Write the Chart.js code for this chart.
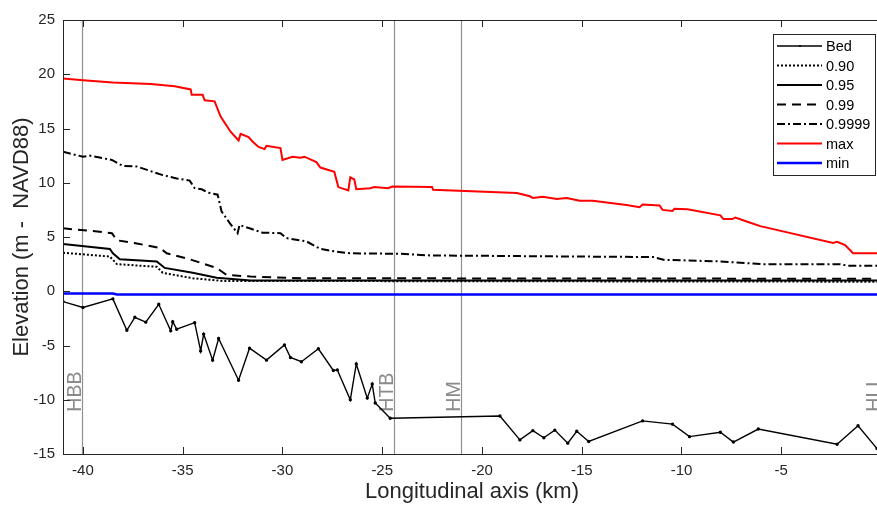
<!DOCTYPE html>
<html>
<head>
<meta charset="utf-8">
<script src="https://cdn.jsdelivr.net/npm/chart.js@4"></script>
<style>
  html, body { margin: 0; padding: 0; background: #fff; overflow: hidden; width: 877px; height: 508px; }
  #wrap { width: 877px; height: 508px; overflow: hidden; position: relative; }
  #chart { position: absolute; left: 0; top: 0; }
</style>
</head>
<body>
<div id="wrap"><canvas id="chart" width="890" height="508"></canvas></div>
<script>
// Tick labels
const xTicks = [-40, -35, -30, -25, -20, -15, -10, -5, 0];
const yTicks = [-15, -10, -5, 0, 5, 10, 15, 20, 25];

// Bed profile
const bedKm   = [-41, -40, -38.5, -37.8, -37.4, -36.85, -36.2, -35.6, -35.5, -35.3, -34.4, -34.1, -33.95, -33.5, -33.2, -32.2, -31.65, -30.8, -29.9, -29.6, -29.05, -28.2, -27.45, -27.25, -26.6, -26.3, -25.75, -25.5, -25.35, -24.6, -19.1, -18.1, -17.45, -16.9, -16.35, -15.7, -15.25, -14.65, -11.95, -10.45, -9.6, -8.05, -7.4, -6.15, -2.2, -1.15, -0.2];
const bedElev = [-0.95, -1.5, -0.7, -3.6, -2.4, -2.85, -1.2, -3.65, -2.8, -3.5, -2.9, -5.5, -3.95, -6.35, -4.35, -8.2, -5.25, -6.35, -4.95, -6.1, -6.5, -5.3, -7.3, -7.25, -10.0, -6.7, -9.85, -8.55, -10.3, -11.7, -11.5, -13.7, -12.85, -13.5, -12.8, -14.0, -12.9, -13.85, -11.95, -12.25, -13.4, -13.0, -13.9, -12.7, -14.1, -12.4, -14.5];

// Quantile 0.90
const q90Km   = [-41, -38.65, -38.3, -36.3, -36.0, -34.5, -33.0, 0];
const q90Elev = [3.55, 3.2, 2.5, 2.25, 1.7, 1.2, 0.95, 0.88];

// Quantile 0.95
const q95Km   = [-41, -38.65, -38.5, -38.15, -36.3, -35.9, -34.5, -33.3, -31.6, 0];
const q95Elev = [4.35, 3.9, 3.5, 2.95, 2.75, 2.15, 1.7, 1.25, 1.0, 1.0];

// Quantile 0.99
const q99Km   = [-41, -39.5, -38.55, -38.3, -37.3, -36.15, -35.8, -34.65, -33.3, -32.8, -31.6, -29.1, 0];
const q99Elev = [5.8, 5.55, 5.35, 4.7, 4.4, 4.0, 3.5, 2.95, 2.15, 1.5, 1.35, 1.2, 1.15];

// Quantile 0.9999
const q9999Km   = [-41, -40, -39.65, -38.55, -38.0, -37.3, -36.0, -35.3, -34.65, -34.4, -34.05, -33.75, -33.25, -33.05, -32.65, -32.25, -32.15, -31.65, -31.0, -30.1, -29.8, -28.8, -28.1, -27.3, -26.6, -24.1, -22.6, -11.4, -10.9, -8.1, -5.9, -2.05, -1.7, 0];
const q9999Elev = [12.85, 12.4, 12.5, 12.1, 11.55, 11.5, 10.7, 10.4, 10.2, 9.5, 9.4, 9.1, 8.9, 7.35, 6.3, 5.35, 6.1, 5.8, 5.4, 5.35, 4.9, 4.6, 3.9, 3.65, 3.5, 3.45, 3.3, 3.15, 2.9, 2.75, 2.5, 2.5, 2.35, 2.35];

// Max elevation
const maxKm   = [-41, -40, -38.5, -36.6, -35.4, -34.6, -34.55, -34.0, -33.9, -33.4, -33.1, -32.6, -32.2, -32.1, -31.7, -31.5, -31.2, -30.9, -30.8, -30.1, -30.0, -29.5, -29.1, -28.9, -28.3, -28.1, -27.4, -27.2, -26.7, -26.6, -26.4, -26.3, -25.6, -25.4, -24.7, -24.5, -22.5, -22.45, -18.25, -17.6, -17.45, -16.95, -16.25, -15.75, -15.1, -14.45, -12.75, -12.1, -11.95, -11.1, -10.95, -10.45, -10.35, -9.7, -8.05, -7.9, -7.45, -7.3, -6.7, -6.05, -2.4, -2.2, -1.8, -1.4, 0];
const maxElev = [19.6, 19.45, 19.25, 19.1, 18.9, 18.6, 18.1, 18.1, 17.6, 17.5, 16.1, 14.7, 13.9, 14.5, 14.2, 13.8, 13.3, 13.1, 13.4, 13.2, 12.1, 12.4, 12.3, 12.4, 11.9, 11.4, 11.0, 9.6, 9.3, 10.5, 10.3, 9.4, 9.5, 9.6, 9.5, 9.65, 9.6, 9.35, 9.05, 8.75, 8.6, 8.7, 8.5, 8.6, 8.35, 8.35, 7.95, 7.75, 8.0, 7.9, 7.5, 7.4, 7.6, 7.55, 7.0, 6.65, 6.65, 6.8, 6.4, 6.0, 4.45, 4.55, 4.25, 3.5, 3.5];

// Min elevation
const minKm   = [-41, -38.5, -38.3, 0];
const minElev = [-0.2, -0.2, -0.3, -0.3];

// Reference stations
const stationNames = ["HBB", "HTB", "HM", "HLL"];
const stationKm    = [-40.05, -24.4, -21.05, 0];

function pts(xs, ys) {
    return xs.map((x, i) => ({ x: x, y: ys[i] }));
}

const FONT = "'Liberation Sans', Arial, Helvetica, sans-serif";
const INK = '#262626';

// Draws station lines, MATLAB-style box, inward ticks and legend
const matlabFrame = {
    id: 'matlabFrame',
    beforeDatasetsDraw(chart) {
        const { ctx, chartArea: a, scales: { x, y } } = chart;
        ctx.save();
        ctx.strokeStyle = '#8f8f8f';
        ctx.lineWidth = 1.2;
        stationKm.forEach((km, i) => {
            const px = Math.round(x.getPixelForValue(km)) + 0.5;
            ctx.beginPath();
            ctx.moveTo(px, a.top);
            ctx.lineTo(px, a.bottom);
            ctx.stroke();
            ctx.save();
            ctx.translate(px - 2, y.getPixelForValue(-11.1));
            ctx.rotate(-Math.PI / 2);
            ctx.fillStyle = '#8a8a8a';
            ctx.font = '19.5px ' + FONT;
            ctx.textAlign = 'left';
            ctx.textBaseline = 'alphabetic';
            ctx.fillText(stationNames[i], 0, 0);
            ctx.restore();
        });
        ctx.restore();
    },
    afterDatasetsDraw(chart) {
        const { ctx, chartArea: a, scales: { x, y } } = chart;
        ctx.save();
        ctx.strokeStyle = INK;
        ctx.lineWidth = 1;
        ctx.strokeRect(Math.round(a.left) + 0.5, Math.round(a.top) + 0.5,
            Math.round(a.right - a.left), Math.round(a.bottom - a.top));
        const tl = 7;
        ctx.beginPath();
        xTicks.forEach(v => {
            const px = Math.round(x.getPixelForValue(v)) + 0.5;
            ctx.moveTo(px, a.bottom); ctx.lineTo(px, a.bottom - tl);
            ctx.moveTo(px, a.top); ctx.lineTo(px, a.top + tl);
        });
        yTicks.forEach(v => {
            const py = Math.round(y.getPixelForValue(v)) + 0.5;
            ctx.moveTo(a.left, py); ctx.lineTo(a.left + tl, py);
        });
        ctx.stroke();

        // legend
        const bx = 773.5, by = 34.5, bw = 102, bh = 141;
        ctx.fillStyle = '#fff';
        ctx.fillRect(bx, by, bw, bh);
        ctx.strokeStyle = INK;
        ctx.strokeRect(bx, by, bw, bh);
        ctx.font = '14.5px ' + FONT;
        ctx.textBaseline = 'middle';
        ctx.textAlign = 'left';
        chart.data.datasets.forEach((ds, i) => {
            const ly = 46 + i * 19.5;
            ctx.save();
            ctx.strokeStyle = ds.borderColor;
            ctx.lineWidth = ds.borderWidth;
            ctx.setLineDash(ds.borderDash || []);
            ctx.beginPath();
            ctx.moveTo(777, ly);
            ctx.lineTo(822, ly);
            ctx.stroke();
            ctx.restore();
            if (ds.pointRadius > 0) {
                ctx.fillStyle = ds.borderColor;
                ctx.beginPath();
                ctx.arc(800, ly, ds.pointRadius, 0, Math.PI * 2);
                ctx.fill();
            }
            ctx.fillStyle = '#000';
            ctx.fillText(ds.label, 826, ly + 1);
        });
        ctx.restore();
    }
};

const lineBase = { fill: false, tension: 0, pointRadius: 0, pointHoverRadius: 0 };

new Chart(document.getElementById('chart'), {
    type: 'line',
    data: {
        datasets: [
            { ...lineBase, label: 'Bed', data: pts(bedKm, bedElev), borderColor: '#000', backgroundColor: '#000', borderWidth: 1.4, pointRadius: 1 },
            { ...lineBase, label: '0.90', data: pts(q90Km, q90Elev), borderColor: '#000', borderWidth: 2, borderDash: [2, 2] },
            { ...lineBase, label: '0.95', data: pts(q95Km, q95Elev), borderColor: '#000', borderWidth: 2 },
            { ...lineBase, label: '0.99', data: pts(q99Km, q99Elev), borderColor: '#000', borderWidth: 2, borderDash: [9, 6] },
            { ...lineBase, label: '0.9999', data: pts(q9999Km, q9999Elev), borderColor: '#000', borderWidth: 2, borderDash: [8, 3, 2, 3] },
            { ...lineBase, label: 'max', data: pts(maxKm, maxElev), borderColor: '#ff0000', borderWidth: 2 },
            { ...lineBase, label: 'min', data: pts(minKm, minElev), borderColor: '#0000ff', borderWidth: 2.5 }
        ]
    },
    options: {
        responsive: false,
        animation: false,
        layout: { padding: { left: 0, right: 9, top: 20, bottom: 0 } },
        plugins: { legend: { display: false }, tooltip: { enabled: false } },
        scales: {
            x: {
                type: 'linear',
                min: -41, max: 0,
                afterBuildTicks: s => { s.ticks = xTicks.map(v => ({ value: v })); },
                afterFit: s => { s.height = 54; s.paddingLeft = 0; s.paddingRight = 0; },
                grid: { display: false, drawTicks: false },
                border: { display: false },
                ticks: { color: INK, font: { family: FONT, size: 15 }, padding: 8, maxRotation: 0 },
                title: { display: true, text: 'Longitudinal axis (km)', color: INK, font: { family: FONT, size: 22 }, padding: { bottom: 3 } }
            },
            y: {
                type: 'linear',
                min: -15, max: 25,
                afterBuildTicks: s => { s.ticks = yTicks.map(v => ({ value: v })); },
                afterFit: s => { s.width = 63; s.paddingTop = 0; s.paddingBottom = 0; },
                grid: { display: false, drawTicks: false },
                border: { display: false },
                ticks: { color: INK, font: { family: FONT, size: 15 }, padding: 8 },
                title: { display: true, text: 'Elevation (m -  NAVD88)', color: INK, font: { family: FONT, size: 22 }, padding: { top: 9 } }
            }
        }
    },
    plugins: [matlabFrame]
});
</script>
</body>
</html>
